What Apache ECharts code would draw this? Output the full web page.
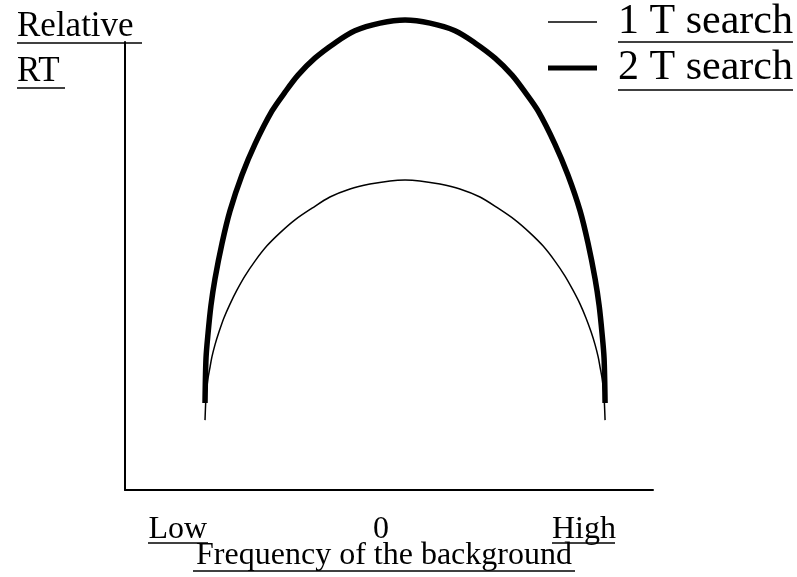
<!DOCTYPE html>
<html>
<head>
<meta charset="utf-8">
<script src="https://cdn.jsdelivr.net/npm/echarts@6/dist/echarts.min.js"></script>
<style>
  html, body { margin: 0; padding: 0; background: #fff; }
  #chart { width: 797px; height: 577px; }
</style>
</head>
<body>
<div id="chart"></div>
<script>
// x: frequency of the background (Low = -1, 0, High = 1), y: relative RT
const tickValues = [-1, 0, 1];
const tickLabels = ['Low', '0', 'High'];
const seriesNames = ['1 T search', '2 T search'];

const thinX = [-0.866, -0.861, -0.856, -0.851, -0.841, -0.832, -0.817, -0.797, -0.773, -0.743, -0.709,
  -0.669, -0.620, -0.561, -0.497, -0.423, -0.339, -0.251, -0.152, -0.054, 0.045, 0.119,
  0.192, 0.291, 0.389, 0.488, 0.577, 0.660, 0.734, 0.798, 0.857, 0.906, 0.946,
  0.981, 1.010, 1.035, 1.055, 1.070, 1.079, 1.089, 1.094, 1.099, 1.104];
const thinY = [15.6, 21.0, 23.2, 25.0, 27.5, 29.7, 32.4, 35.3, 38.4, 41.5, 44.6,
  47.8, 51.1, 54.5, 57.4, 60.3, 62.9, 65.4, 67.2, 68.3, 69.0, 69.2,
  69.0, 68.3, 67.2, 65.4, 62.9, 60.3, 57.4, 54.5, 51.1, 47.8, 44.6,
  41.5, 38.4, 35.3, 32.4, 29.7, 27.5, 25.0, 23.2, 21.0, 15.6];

const thickX = [-0.866, -0.861, -0.851, -0.837, -0.817, -0.782, -0.743, -0.684, -0.620, -0.536, -0.472,
  -0.408, -0.325, -0.226, -0.128, -0.004, 0.119, 0.242, 0.365, 0.463, 0.562, 0.646,
  0.710, 0.774, 0.857, 0.921, 0.981, 1.020, 1.055, 1.075, 1.089, 1.099, 1.104];
const thickY = [19.4, 29.5, 35.0, 41.1, 47.1, 55.1, 62.3, 70.3, 77.2, 84.6, 88.8,
  92.6, 96.4, 99.8, 102.5, 104.2, 104.9, 104.2, 102.5, 99.8, 96.4, 92.6,
  88.8, 84.6, 77.2, 70.3, 62.3, 55.1, 47.1, 41.1, 35.0, 29.5, 19.4];

const zip = (xs, ys) => xs.map((x, i) => [x, ys[i]]);
const font = '"Liberation Serif", "Times New Roman", serif';

// underlines (the original text is underlined)
const underline = (x1, x2, y) => ({
  type: 'line',
  shape: { x1: x1, y1: y, x2: x2, y2: y },
  style: { stroke: '#000', lineWidth: 1.5 },
  silent: true
});

const chart = echarts.init(document.getElementById('chart'));
chart.setOption({
  animation: false,
  backgroundColor: '#fff',
  grid: { left: 125, right: 144, top: 42, bottom: 87, outerBoundsMode: 'none', containLabel: false },
  legend: {
    orient: 'vertical',
    left: 548,
    top: 1,
    padding: 0,
    itemWidth: 49,
    itemHeight: 14,
    itemGap: 4,
    textStyle: {
      fontFamily: font,
      fontSize: 42,
      lineHeight: 42,
      color: '#000',
      padding: [0, 0, 0, 16]
    },
    data: [
      { name: seriesNames[0], itemStyle: { color: '#000' }, icon: 'path://M0,0 L49,0 L49,1.5 L0,1.5 Z' },
      { name: seriesNames[1], itemStyle: { color: '#000' }, icon: 'path://M0,0 L49,0 L49,5 L0,5 Z' }
    ]
  },
  xAxis: {
    type: 'value',
    min: -1.26,
    max: 1.34,
    name: 'Frequency of the background',
    nameLocation: 'middle',
    nameGap: 50,
    nameMoveOverlap: false,
    nameTextStyle: { fontFamily: font, fontSize: 32, color: '#000', padding: [0, 10, 0, 0] },
    axisLine: { show: true, onZero: false, lineStyle: { color: '#000', width: 2 } },
    axisTick: { show: false },
    splitLine: { show: false },
    axisLabel: {
      customValues: tickValues,
      formatter: v => tickLabels[tickValues.indexOf(v)],
      fontFamily: font,
      fontSize: 32,
      color: '#000',
      margin: 24
    }
  },
  yAxis: {
    type: 'value',
    min: 0,
    max: 100,
    axisLine: { show: true, onZero: false, lineStyle: { color: '#000', width: 2 } },
    axisTick: { show: false },
    axisLabel: { show: false },
    splitLine: { show: false }
  },
  graphic: [
    {
      type: 'text',
      left: 17,
      top: 4,
      style: {
        text: 'Relative\nRT',
        font: '35px ' + font,
        lineHeight: 45,
        fill: '#000'
      }
    },
    underline(17, 142, 43),
    underline(17, 65, 88),
    underline(618, 793, 42),
    underline(618, 793, 90),
    underline(148, 208, 543),
    underline(552, 615, 543),
    underline(193, 575, 571)
  ],
  series: [
    {
      name: seriesNames[0],
      type: 'line',
      data: zip(thinX, thinY),
      symbol: 'none',
      smooth: 0.3,
      clip: false,
      lineStyle: { color: '#000', width: 1.5 }
    },
    {
      name: seriesNames[1],
      type: 'line',
      data: zip(thickX, thickY),
      symbol: 'none',
      smooth: 0.3,
      clip: false,
      lineStyle: { color: '#000', width: 5.5 }
    }
  ]
});
</script>
</body>
</html>
